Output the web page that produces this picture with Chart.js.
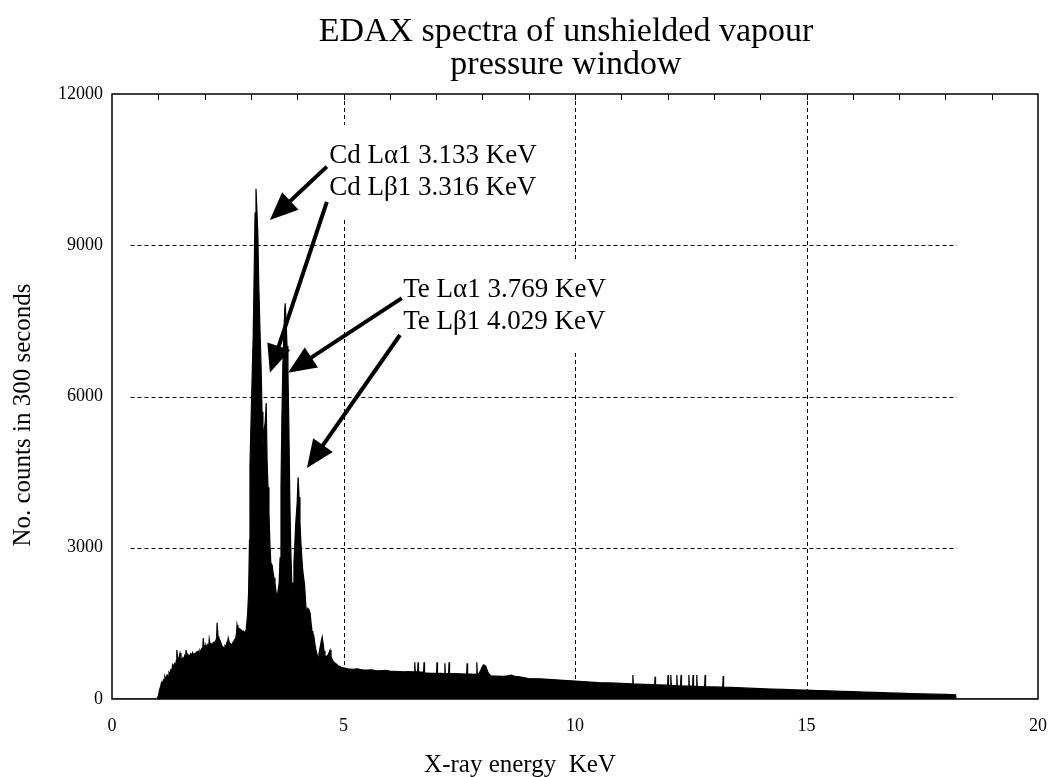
<!DOCTYPE html>
<html>
<head>
<meta charset="utf-8">
<script src="https://cdn.jsdelivr.net/npm/chart.js@4.4.1/dist/chart.umd.min.js"></script>
<style>
  html, body { margin: 0; padding: 0; background: #ffffff; }
  canvas { display: block; }
</style>
</head>
<body>
<canvas id="c" width="1048" height="777"></canvas>
<script>
// ---- Data ----
const titleLines = ["EDAX spectra of unshielded vapour", "pressure window"];
const xAxisTitle = "X-ray energy  KeV";
const yAxisTitle = "No. counts in 300 seconds";

const xTicks = [0, 5, 10, 15, 20];
const yTicks = [0, 3000, 6000, 9000, 12000];

// energy (KeV)
const energyKeV = [
  0, 0.97, 1.00, 1.03, 1.05, 1.07, 1.09, 1.11, 1.13, 1.14, 1.16, 1.19, 1.21, 1.23, 1.25, 1.27, 1.29,
  1.31, 1.33, 1.35, 1.37, 1.39, 1.40, 1.42, 1.45, 1.47, 1.49, 1.51, 1.53, 1.55, 1.57, 1.59, 1.60,
  1.62, 1.64, 1.66, 1.68, 1.70, 1.72, 1.74, 1.76, 1.78, 1.80, 1.82, 1.84, 1.86, 1.88, 1.90, 1.92,
  1.94, 1.96, 1.97, 1.99, 2.01, 2.03, 2.05, 2.07, 2.09, 2.10, 2.12, 2.14, 2.16, 2.18, 2.20, 2.22,
  2.24, 2.26, 2.27, 2.29, 2.31, 2.33, 2.35, 2.37, 2.39, 2.42, 2.44, 2.46, 2.48, 2.50, 2.51, 2.53,
  2.55, 2.57, 2.59, 2.61, 2.63, 2.65, 2.67, 2.69, 2.70, 2.72, 2.74, 2.76, 2.79, 2.81, 2.83, 2.85,
  2.87, 2.90, 2.93, 2.95, 2.97, 2.98, 3.00, 3.03, 3.05, 3.07, 3.09, 3.11, 3.13, 3.15, 3.17, 3.20,
  3.22, 3.24, 3.26, 3.28, 3.31, 3.33, 3.35, 3.37, 3.39, 3.41, 3.43, 3.46, 3.48, 3.50, 3.52, 3.54,
  3.56, 3.58, 3.61, 3.63, 3.65, 3.67, 3.69, 3.71, 3.73, 3.74, 3.76, 3.78, 3.80, 3.82, 3.84, 3.86,
  3.88, 3.89, 3.91, 3.93, 3.95, 3.97, 4.00, 4.02, 4.04, 4.06, 4.08, 4.10, 4.12, 4.14, 4.16, 4.18,
  4.20, 4.23, 4.25, 4.28, 4.30, 4.32, 4.34, 4.36, 4.38, 4.41, 4.43, 4.45, 4.47, 4.49, 4.52, 4.54,
  4.56, 4.58, 4.60, 4.62, 4.65, 4.67, 4.69, 4.71, 4.73, 4.75, 4.78, 4.82, 4.85, 4.88, 4.92, 4.95,
  5.00, 5.03,
  5.10, 5.20, 5.30, 5.40, 5.50, 5.60, 5.70, 5.80, 5.90, 6.00, 6.10, 6.20, 6.30, 6.40, 6.50,
  6.53, 6.54, 6.55, 6.60, 6.61, 6.62, 6.70, 6.73, 6.74, 6.75, 6.80, 6.90,
  7.01, 7.02, 7.03, 7.10, 7.18, 7.19, 7.20, 7.27, 7.28, 7.29, 7.40, 7.50,
  7.66, 7.67, 7.68, 7.75, 7.87, 7.88, 7.89, 7.92, 7.96, 8.00, 8.03, 8.07, 8.12, 8.18,
  8.30, 8.45, 8.55, 8.62, 8.70, 8.80, 9.00, 9.25, 9.50, 9.75, 10.00, 10.25, 10.50, 10.75, 11.00,
  11.24, 11.25, 11.26, 11.50, 11.72, 11.73, 11.74, 11.85, 12.00, 12.01, 12.02, 12.06, 12.07, 12.08,
  12.19, 12.20, 12.21, 12.28, 12.29, 12.30, 12.45, 12.46, 12.47, 12.54, 12.55, 12.56, 12.62, 12.63,
  12.64, 12.80, 12.81, 12.82, 13.00, 13.19, 13.20, 13.21, 13.50, 13.75, 14.00, 14.25, 14.50, 14.75,
  15.00, 15.25, 15.50, 15.75, 16.00, 16.25, 16.50, 16.75, 17.00, 17.25, 17.50, 17.75, 18.00, 18.22,
  18.23, 20
];

// counts in 300 s
const countsIn300s = [
  0, 0, 60, 190, 250, 330, 290, 380, 350, 450, 400, 480, 450, 530, 500, 580, 560,
  680, 640, 700, 660, 760, 970, 780, 830, 910, 820, 770, 820, 790, 860, 800, 970,
  840, 880, 850, 870, 900, 860, 920, 870, 900, 880, 930, 910, 950, 920, 970, 940,
  1000, 980, 1210, 1010, 1060, 1070, 1020, 1080, 1050, 1190, 1060, 1100, 1080, 1110, 1130, 1090,
  1160, 1200, 1510, 1240, 1200, 1170, 1120, 1060, 1040, 1010, 1060, 1040, 1120, 1150, 1210, 1130,
  1100, 1090, 1070, 1120, 1140, 1180, 1200, 1300, 1470, 1360, 1400, 1390, 1370, 1330, 1350, 1300,
  1310, 1380, 1700, 2100, 3150, 4600, 5400, 6500, 7200, 8400, 9640, 10120, 9700, 9200, 8200, 7200,
  6600, 5700, 5000, 5300, 5500, 5870, 4700, 4200, 3700, 3100, 2700, 2650, 2500, 2400, 2300, 2150,
  2020, 2100, 2300, 2800, 4200, 5600, 6600, 7200, 7700, 7850, 7500, 7000, 6500, 5400, 4000, 3000,
  2400, 2100, 2300, 2700, 3100, 3500, 3900, 4400, 4000, 3500, 3100, 2800, 2550, 2400, 2250, 1950,
  1700, 1800, 1780, 1700, 1500, 1350, 1300, 1250, 1100, 950, 880, 830, 900, 1000, 1150, 1230,
  1100, 950, 870, 830, 860, 880, 920, 970, 850, 800, 740, 710, 690, 660, 650, 630,
  620, 615,
  600, 590, 600, 580, 575, 580, 565, 560, 570, 555, 550, 545, 540, 545, 540,
  540, 730, 540, 540, 730, 540, 535, 530, 730, 515, 515, 510,
  510, 730, 510, 510, 505, 710, 505, 505, 730, 505, 505, 500,
  495, 710, 495, 495, 490, 730, 490, 500, 560, 650, 680, 650, 530, 460,
  455, 450, 460, 475, 450, 440, 405, 400, 385, 370, 355, 340, 325, 318, 310,
  300, 475, 300, 290, 285, 440, 285, 280, 275, 475, 272, 270, 475, 270,
  265, 475, 265, 262, 475, 262, 258, 475, 258, 255, 475, 255, 252, 475,
  252, 245, 475, 245, 240, 235, 455, 235, 225, 215, 205, 198, 190, 182,
  175, 168, 160, 152, 145, 138, 130, 122, 115, 108, 100, 95, 90, 85,
  0, 0
];

// Peak labels (anchor in data units: KeV, counts)
const peakLabelGroups = [
  { lines: ["Cd L\u03b11 3.133 KeV", "Cd L\u03b21 3.316 KeV"], at: [4.69, 10630] },
  { lines: ["Te L\u03b11 3.769 KeV", "Te L\u03b21 4.029 KeV"], at: [6.29, 7972] }
];
// Arrows: [fromKeV, fromCounts, toKeV, toCounts]
const peakArrows = [
  [4.64, 10560, 3.41, 9500],
  [4.64, 9860, 3.41, 6470],
  [6.26, 7950, 3.80, 6470],
  [6.22, 7220, 4.21, 4580]
];

// ---- Drawing ----
const SERIF = "'Liberation Serif', 'Times New Roman', serif";

const decorPlugin = {
  id: 'decor',
  beforeDatasetsDraw(chart) {
    const { ctx, chartArea: a, scales: { x, y } } = chart;
    ctx.save();
    ctx.strokeStyle = '#000';
    ctx.lineWidth = 1;
    ctx.setLineDash([4, 3]);
    [5, 10, 15].forEach(v => {
      const px = Math.round(x.getPixelForValue(v)) + 0.5;
      ctx.beginPath(); ctx.moveTo(px, a.top); ctx.lineTo(px, a.bottom); ctx.stroke();
    });
    [3000, 6000, 9000].forEach(v => {
      const py = Math.round(y.getPixelForValue(v)) + 0.5;
      ctx.beginPath();
      ctx.moveTo(x.getPixelForValue(0.4), py);
      ctx.lineTo(x.getPixelForValue(18.25), py);
      ctx.stroke();
    });
    ctx.restore();
  },
  afterDatasetsDraw(chart) {
    const { ctx, chartArea: a, scales: { x, y } } = chart;
    ctx.save();
    // frame
    ctx.setLineDash([]);
    ctx.strokeStyle = '#000';
    ctx.lineWidth = 1.5;
    ctx.strokeRect(a.left, a.top, a.right - a.left, a.bottom - a.top);
    // inward minor ticks on the top edge
    ctx.lineWidth = 1;
    for (let v = 1; v < 20; v++) {
      const px = Math.round(x.getPixelForValue(v)) + 0.5;
      ctx.beginPath(); ctx.moveTo(px, a.top); ctx.lineTo(px, a.top + 6); ctx.stroke();
    }

    // peak labels with white boxes
    ctx.font = '27px ' + SERIF;
    ctx.textBaseline = 'alphabetic';
    ctx.textAlign = 'left';
    const lineGap = 32;
    peakLabelGroups.forEach(g => {
      const lx = x.getPixelForValue(g.at[0]);
      const ly = y.getPixelForValue(g.at[1]);
      const w = Math.max(...g.lines.map(t => ctx.measureText(t).width));
      ctx.fillStyle = '#fff';
      ctx.fillRect(lx - 10, ly - 38, w + 22, lineGap * (g.lines.length - 1) + 62);
      ctx.fillStyle = '#000';
      g.lines.forEach((t, i) => ctx.fillText(t, lx, ly + i * lineGap));
    });

    // arrows
    peakArrows.forEach(ar => {
      const x0 = x.getPixelForValue(ar[0]), y0 = y.getPixelForValue(ar[1]);
      const x1 = x.getPixelForValue(ar[2]), y1 = y.getPixelForValue(ar[3]);
      const ang = Math.atan2(y1 - y0, x1 - x0);
      const hl = 28, hw = 12;
      const bx = x1 - hl * Math.cos(ang), by = y1 - hl * Math.sin(ang);
      ctx.strokeStyle = '#000';
      ctx.lineWidth = 4;
      ctx.beginPath(); ctx.moveTo(x0, y0); ctx.lineTo(bx + 3 * Math.cos(ang), by + 3 * Math.sin(ang)); ctx.stroke();
      ctx.fillStyle = '#000';
      ctx.beginPath();
      ctx.moveTo(x1, y1);
      ctx.lineTo(bx + hw * Math.sin(ang), by - hw * Math.cos(ang));
      ctx.lineTo(bx - hw * Math.sin(ang), by + hw * Math.cos(ang));
      ctx.closePath();
      ctx.fill();
    });
    ctx.restore();
  },
  afterDraw(chart) {
    const { ctx } = chart;
    ctx.save();
    ctx.fillStyle = '#000';
    // title
    ctx.font = '34px ' + SERIF;
    ctx.textAlign = 'center';
    ctx.textBaseline = 'alphabetic';
    ctx.fillText(titleLines[0], 566, 41);
    ctx.fillText(titleLines[1], 566, 74);
    // x axis title
    ctx.font = '25px ' + SERIF;
    ctx.fillText(xAxisTitle, 520, 772);
    // y axis title
    ctx.translate(30, 415);
    ctx.rotate(-Math.PI / 2);
    ctx.fillText(yAxisTitle, 0, 0);
    ctx.restore();
  }
};

const points = energyKeV.map((e, i) => ({ x: e, y: countsIn300s[i] }));

new Chart(document.getElementById('c'), {
  type: 'line',
  data: {
    datasets: [{
      label: 'EDAX spectrum',
      data: points,
      borderColor: '#000',
      backgroundColor: '#000',
      borderWidth: 1.2,
      pointRadius: 0,
      tension: 0,
      fill: 'origin'
    }]
  },
  options: {
    responsive: false,
    animation: false,
    layout: { padding: { top: 94, right: 10, left: 0, bottom: 0 } },
    plugins: {
      legend: { display: false },
      tooltip: { enabled: false },
      title: { display: false }
    },
    scales: {
      x: {
        type: 'linear',
        min: 0, max: 20,
        afterBuildTicks: s => { s.ticks = xTicks.map(v => ({ value: v })); },
        afterFit: s => { s.height = 78; s.paddingLeft = 0; s.paddingRight = 0; },
        grid: { display: false, drawTicks: false },
        border: { display: false },
        ticks: { color: '#000', font: { family: SERIF, size: 18 }, padding: 16, maxRotation: 0,
                 callback: v => String(v) }
      },
      y: {
        type: 'linear',
        min: 0, max: 12000,
        afterBuildTicks: s => { s.ticks = yTicks.map(v => ({ value: v })); },
        afterFit: s => { s.width = 112; },
        grid: { display: false, drawTicks: false },
        border: { display: false },
        ticks: { color: '#000', font: { family: SERIF, size: 18 }, padding: 9,
                 callback: v => String(v) }
      }
    }
  },
  plugins: [decorPlugin]
});
</script>
</body>
</html>
